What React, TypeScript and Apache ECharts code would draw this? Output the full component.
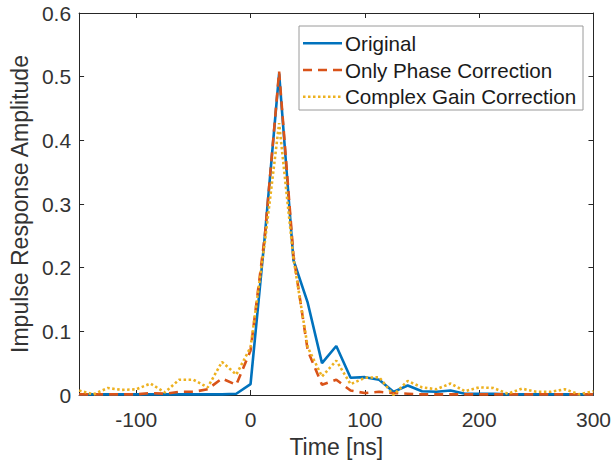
import React, { useEffect, useRef } from "react";
import * as echarts from "echarts";

const times = [
  -150, -137.5, -125, -112.5, -100, -87.5, -75, -62.5, -50, -37.5, -25, -12.5,
  0, 12.5, 25, 37.5, 50, 62.5, 75, 87.5, 100, 112.5, 125, 137.5, 150, 162.5,
  175, 187.5, 200, 212.5, 225, 237.5, 250, 262.5, 275, 287.5, 300,
];

const original = [
  0.001, 0.001, 0.001, 0.001, 0.001, 0.001, 0.001, 0.001, 0.001, 0.001, 0.001, 0.002,
  0.017, 0.25, 0.505, 0.212, 0.145, 0.05, 0.077, 0.027, 0.028, 0.024, 0.005, 0.015,
  0.006, 0.005, 0.007, 0.002, 0.002, 0.002, 0.001, 0.001, 0.001, 0.001, 0.001, 0.001, 0.001,
];

const phaseOnly = [
  0.001, 0.001, 0.001, 0.001, 0.001, 0.003, 0.002, 0.005, 0.005, 0.009, 0.026, 0.016,
  0.07, 0.25, 0.508, 0.22, 0.07, 0.016, 0.024, 0.007, 0.003, 0.005, 0.003, 0.002,
  0.001, 0.001, 0.001, 0.001, 0.001, 0.001, 0.001, 0.001, 0.001, 0.001, 0.001, 0.001, 0.001,
];

const complexGain = [
  0.007, 0.001, 0.011, 0.008, 0.009, 0.018, 0.004, 0.024, 0.024, 0.012, 0.052, 0.032,
  0.075, 0.24, 0.427, 0.215, 0.075, 0.029, 0.054, 0.017, 0.027, 0.028, 0.0, 0.022,
  0.012, 0.009, 0.018, 0.006, 0.012, 0.011, 0.002, 0.01, 0.005, 0.005, 0.009, 0.001, 0.006,
];

const xTicks = [-100, 0, 100, 200, 300];
const seriesNames = ["Original", "Only Phase Correction", "Complex Gain Correction"];
const seriesColors = ["#0072BD", "#D95319", "#EDB120"];
const seriesDash: (number[] | null)[] = [null, [9, 6], [2.5, 2.5]];

const FONT = "Liberation Sans, Arial, Helvetica, sans-serif";
const AXIS_COLOR = "#262626";
const TEXT_COLOR = "#333333";
const LINE_W = 2.6;

export default function App() {
  const ref = useRef<HTMLDivElement>(null);

  useEffect(() => {
    if (!ref.current) return;
    const chart = echarts.init(ref.current, undefined, { renderer: "svg" });
    const toPairs = (vals: number[]) => times.map((t, i) => [t, vals[i]]);

    const axisLine = { show: true, onZero: false, lineStyle: { color: AXIS_COLOR, width: 1 } };
    const tick = { show: true, inside: true, length: 5, lineStyle: { color: AXIS_COLOR, width: 1 } };

    // Legend box (drawn as graphic for MATLAB-like look)
    const legX = 299;
    const legY = 26;
    const legW = 284;
    const legH = 84;
    const rowY = [43.3, 70, 96.7];
    const legendChildren: any[] = [
      {
        type: "rect",
        shape: { x: legX, y: legY, width: legW, height: legH },
        style: { fill: "#ffffff", stroke: "#9a9a9a", lineWidth: 1 },
      },
    ];
    seriesNames.forEach((name, i) => {
      legendChildren.push({
        type: "line",
        shape: { x1: 303, y1: rowY[i], x2: 342, y2: rowY[i] },
        style: {
          stroke: seriesColors[i],
          lineWidth: LINE_W,
          lineDash: seriesDash[i] || undefined,
        },
      });
      legendChildren.push({
        type: "text",
        x: 345,
        y: rowY[i],
        style: {
          text: name,
          fontSize: 20.6,
          fontFamily: FONT,
          fill: "#1a1a1a",
          verticalAlign: "middle",
          align: "left",
        },
      });
    });

    chart.setOption({
      animation: false,
      backgroundColor: "#ffffff",
      textStyle: { fontFamily: FONT },
      grid: { left: 71, right: 18, top: 13, bottom: 66, containLabel: false },
      graphic: [{ type: "group", z: 100, children: legendChildren }],
      xAxis: [
        {
          type: "value",
          min: -150,
          max: 300,
          position: "bottom",
          name: "Time [ns]",
          nameLocation: "middle",
          nameGap: 40,
          nameTextStyle: { fontSize: 23, color: TEXT_COLOR, fontFamily: FONT },
          axisLine,
          axisTick: { ...tick, customValues: xTicks },
          axisLabel: {
            customValues: xTicks,
            fontSize: 21,
            color: TEXT_COLOR,
            fontFamily: FONT,
            margin: 14,
          },
          splitLine: { show: false },
        },
        {
          type: "value",
          min: -150,
          max: 300,
          position: "top",
          axisLine,
          axisTick: { ...tick, customValues: xTicks },
          axisLabel: { show: false },
          splitLine: { show: false },
        },
      ],
      yAxis: [
        {
          type: "value",
          min: 0,
          max: 0.6,
          interval: 0.1,
          position: "left",
          name: "Impulse Response Amplitude",
          nameLocation: "middle",
          nameGap: 47,
          nameTextStyle: { fontSize: 23, color: TEXT_COLOR, fontFamily: FONT },
          axisLine,
          axisTick: tick,
          axisLabel: {
            fontSize: 21,
            color: TEXT_COLOR,
            fontFamily: FONT,
            margin: 8,
            formatter: (v: number) => (v === 0 ? "0" : v.toFixed(1)),
          },
          splitLine: { show: false },
        },
        {
          type: "value",
          min: 0,
          max: 0.6,
          interval: 0.1,
          position: "right",
          axisLine,
          axisTick: tick,
          axisLabel: { show: false },
          splitLine: { show: false },
        },
      ],
      series: seriesNames.map((name, i) => ({
        name,
        type: "line",
        data: toPairs([original, phaseOnly, complexGain][i]),
        symbol: "none",
        color: seriesColors[i],
        lineStyle: {
          color: seriesColors[i],
          width: LINE_W,
          type: seriesDash[i] || "solid",
        },
        z: 3 + i,
      })),
    });

    return () => chart.dispose();
  }, []);

  return <div ref={ref} style={{ width: 614, height: 463, position: "absolute", left: 0, top: 0 }} />;
}
